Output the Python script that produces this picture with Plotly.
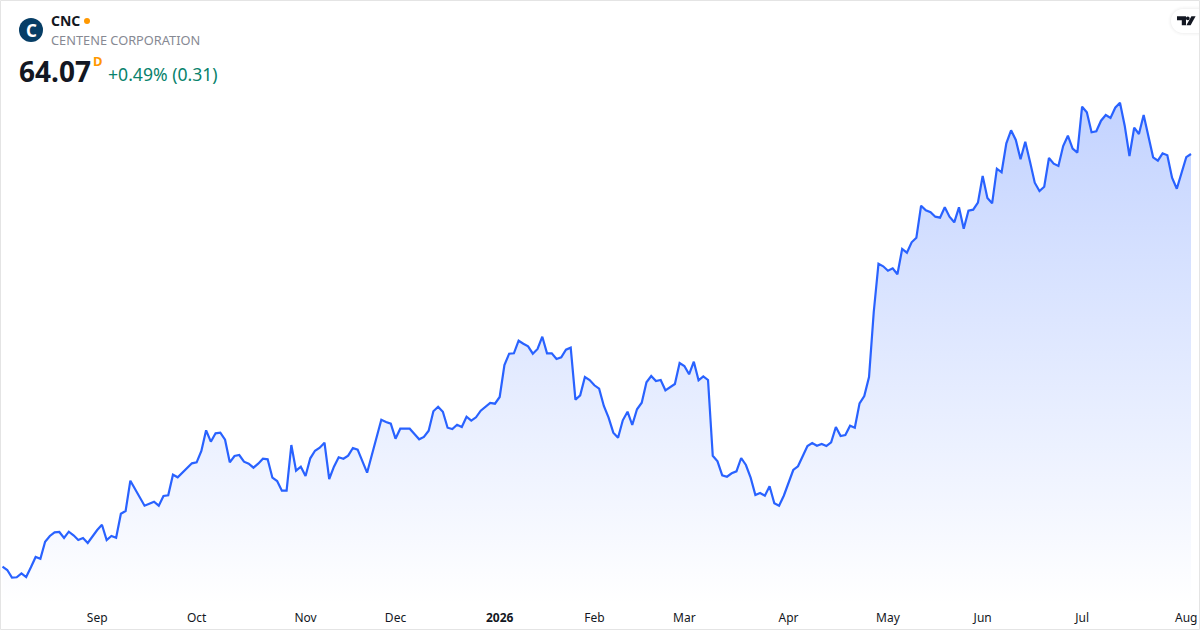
import plotly.graph_objects as go

WIDTH = 1200
HEIGHT = 630
PLOT_BOTTOM = 605

prices = [
    22.80, 22.47, 21.70, 21.74, 22.14, 21.77, 22.74, 23.77, 23.60, 25.30,
    25.87, 26.24, 26.27, 25.67, 26.30, 25.94, 25.47, 25.67, 25.17, 25.84,
    26.47, 27.00, 25.47, 25.87, 25.70, 28.10, 28.37, 31.40, 30.57, 29.80,
    28.90, 29.10, 29.30, 28.90, 29.87, 29.94, 32.00, 31.74, 32.24, 32.64,
    33.14, 33.24, 34.37, 36.44, 35.30, 36.14, 36.20, 35.50, 33.24, 33.87,
    33.97, 33.30, 33.10, 32.70, 33.10, 33.60, 33.54, 31.70, 31.37, 30.40,
    30.40, 34.97, 32.40, 32.80, 31.87, 33.64, 34.40, 34.70, 35.20, 31.57,
    32.80, 33.74, 33.60, 33.90, 34.67, 34.50, 33.37, 32.20, 33.97, 35.80,
    37.50, 37.27, 37.10, 35.60, 36.60, 36.60, 36.60, 36.07, 35.54, 35.77,
    36.40, 38.34, 38.80, 38.30, 36.70, 36.57, 37.00, 36.77, 37.80, 37.40,
    37.74, 38.40, 38.74, 39.17, 39.10, 39.77, 42.97, 44.10, 44.14, 45.40,
    45.10, 44.84, 44.10, 44.57, 45.80, 44.14, 44.14, 43.57, 43.74, 44.50,
    44.70, 39.50, 39.94, 41.77, 41.47, 40.94, 40.60, 38.87, 37.70, 36.20,
    35.70, 37.44, 38.30, 36.97, 38.54, 39.20, 41.24, 41.87, 41.37, 41.47,
    40.44, 40.80, 41.07, 43.17, 42.87, 42.04, 43.30, 41.44, 41.84, 41.47,
    33.90, 33.34, 31.94, 31.80, 32.14, 32.34, 33.67, 32.97, 31.70, 29.97,
    30.17, 29.90, 30.84, 29.14, 28.90, 29.90, 31.20, 32.47, 32.84, 33.84,
    34.87, 35.17, 34.90, 35.07, 34.87, 35.24, 36.77, 35.87, 35.97, 36.90,
    36.70, 39.14, 39.87, 41.77, 48.27, 53.10, 52.84, 52.40, 52.64, 52.04,
    54.57, 54.20, 55.24, 55.70, 58.90, 58.44, 58.24, 57.80, 57.70, 58.74,
    57.80, 57.24, 58.74, 56.60, 58.40, 58.50, 59.20, 61.87, 59.67, 59.14,
    62.60, 62.24, 65.14, 66.44, 65.47, 63.54, 65.30, 63.30, 61.20, 60.37,
    60.80, 63.67, 63.10, 62.87, 64.87, 65.90, 64.60, 64.20, 68.80, 68.24,
    66.24, 66.34, 67.40, 67.97, 67.67, 68.70, 69.20, 66.90, 63.87, 66.70,
    66.07, 67.97, 65.97, 63.74, 63.40, 64.14, 63.94, 61.70, 60.60, 62.14,
    63.76, 64.07,
]
month_ticks = [20, 41, 64, 83, 105, 125, 144, 166, 187, 207, 228, 250]
month_labels = ["Sep", "Oct", "Nov", "Dec", "<b>2026</b>", "Feb", "Mar", "Apr", "May", "Jun", "Jul", "Aug"]

LINE_BLUE = "#2962ff"
FONT = "Noto Sans"


def px(x):
    return x / WIDTH


def py(y):
    return 1 - y / PLOT_BOTTOM


def svg_path(points):
    return "M " + " L ".join(f"{px(x):.5f} {py(y):.5f}" for x, y in points) + " Z"


def label(x, y, text, size, color, anchor="left"):
    return {
        "x": px(x),
        "y": py(y),
        "xref": "paper",
        "yref": "paper",
        "text": text,
        "showarrow": False,
        "xanchor": anchor,
        "yanchor": "middle",
        "borderpad": 0,
        "borderwidth": 0,
        "font": {"family": FONT, "size": size, "color": color},
    }


def circle(cx, cy, r, color):
    return {
        "type": "circle",
        "xref": "paper",
        "yref": "paper",
        "x0": px(cx - r),
        "x1": px(cx + r),
        "y0": py(cy + r),
        "y1": py(cy - r),
        "fillcolor": color,
        "line": {"width": 0},
    }


def solid(points, color="#131722", line=None):
    return {
        "type": "path",
        "xref": "paper",
        "yref": "paper",
        "path": svg_path(points),
        "fillcolor": color,
        "line": line or {"width": 0},
    }


def badge(grow, color):
    # rounded on the left, runs off the right edge of the card
    left, top, bottom = 1171 - grow, 9 - grow, 33 + grow
    mid = (top + bottom) / 2
    r = (bottom - top) / 2
    path = (
        f"M {px(1199)} {py(top)} L {px(left + r)} {py(top)} "
        f"C {px(left + r * 0.45)} {py(top)} {px(left)} {py(mid - r * 0.55)} {px(left)} {py(mid)} "
        f"C {px(left)} {py(mid + r * 0.55)} {px(left + r * 0.45)} {py(bottom)} {px(left + r)} {py(bottom)} "
        f"L {px(1199)} {py(bottom)} Z"
    )
    return {
        "type": "path",
        "xref": "paper",
        "yref": "paper",
        "path": path,
        "fillcolor": color,
        "line": {"width": 0},
    }


fig = go.Figure(
    go.Scatter(
        x=list(range(len(prices))),
        y=prices,
        mode="lines",
        line={"color": LINE_BLUE, "width": 2.2},
        fill="tozeroy",
        fillgradient={
            "type": "vertical",
            "start": 18.97,
            "stop": 69.2,
            "colorscale": [[0, "rgba(41,98,255,0)"], [1, "rgba(41,98,255,0.28)"]],
        },
        hoverinfo="skip",
        showlegend=False,
    )
)

shapes = [
    {
        "type": "rect",
        "xref": "paper",
        "yref": "paper",
        "x0": px(0.5),
        "x1": px(1199.5),
        "y0": py(629.5),
        "y1": py(0.5),
        "line": {"color": "#e4e4e4", "width": 1},
    },
    badge(3, "rgba(0,0,0,0.01)"),
    badge(2, "rgba(0,0,0,0.012)"),
    badge(1, "rgba(0,0,0,0.018)"),
    badge(0, "#ffffff"),
    solid([(1177, 16.3), (1186, 16.3), (1186, 25.3), (1181.8, 25.3), (1181.8, 20.2), (1177, 20.2)]),
    circle(1187.8, 18.3, 1.9, "#131722"),
    solid([(1191.4, 16.3), (1195.6, 16.3), (1190.6, 25.3), (1186.4, 25.3)]),
    circle(31, 30, 12, "#063e66"),
    circle(87, 21, 3, "#ff9800"),
]

annotations = [
    label(31, 30.5, "<b>C</b>", 17, "#ffffff", "center"),
    label(51, 21, "<b>CNC</b>", 14, "#131722"),
    label(51, 40.5, "CENTENE CORPORATION", 12.8, "#868993"),
    label(19, 71, "<b>64.07</b>", 28, "#131722"),
    label(93, 61, "<b>D</b>", 13, "#ff9800"),
    label(108, 74.3, "+0.49% (0.31)", 17.6, "#08826c"),
]

fig.update_layout(
    width=WIDTH,
    height=HEIGHT,
    margin={"l": 0, "r": 0, "t": 0, "b": HEIGHT - PLOT_BOTTOM},
    paper_bgcolor="#ffffff",
    plot_bgcolor="#ffffff",
    font={"family": FONT, "size": 12, "color": "#131722"},
    shapes=shapes,
    annotations=annotations,
)
fig.update_xaxes(
    range=[-0.528, 252.9],
    tickmode="array",
    tickvals=month_ticks,
    ticktext=month_labels,
    ticks="",
    ticklabelstandoff=4,
    showgrid=False,
    zeroline=False,
    showline=False,
)
fig.update_yaxes(range=[18.97, 79.47], visible=False)

fig.write_html("out.html", post_script="document.body.style.margin = '0';", config={"displayModeBar": False})
